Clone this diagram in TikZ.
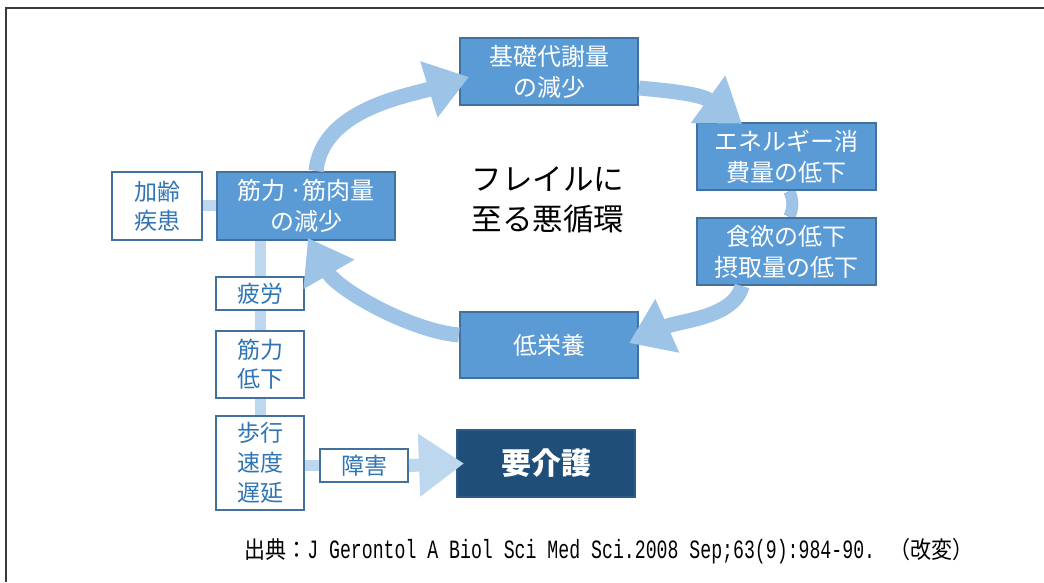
\documentclass[tikz,border=0pt]{standalone}
\usepackage{fontspec}
\setmainfont{Noto Sans CJK JP}
\newfontfamily\jpfont{Noto Sans CJK JP}
\newfontfamily\citemono{Liberation Mono}
\usetikzlibrary{arrows.meta,calc,backgrounds}
\definecolor{boxfill}{HTML}{5B9BD5}
\definecolor{boxline}{HTML}{41719C}
\definecolor{wtext}{HTML}{2F75B5}
\definecolor{carefill}{HTML}{1F4E79}
\definecolor{careline}{HTML}{2E5C8A}
\definecolor{arrowc}{HTML}{9DC3E6}
\definecolor{connc}{HTML}{BDD7EE}
\definecolor{framec}{HTML}{3A3A3A}
\tikzset{
  x=1pt, y=1pt,
  bluebox/.style={draw=boxline, fill=boxfill, line width=2pt, text=white,
    minimum width=178pt, minimum height=67pt, inner sep=0pt, align=center,
    font=\fontsize{24}{31}\selectfont},
  whitebox/.style={draw=boxline, fill=white, line width=2pt, text=wtext,
    minimum width=88pt, inner sep=0pt, align=center,
    font=\fontsize{23}{29}\selectfont},
  carebox/.style={draw=careline, fill=carefill, line width=2pt, text=white,
    minimum width=178pt, minimum height=67pt, inner sep=0pt,
    font=\fontsize{30}{36}\selectfont\bfseries},
  cyc/.style={draw=arrowc, line width=15pt, -{Triangle[length=42pt,width=56pt]}},
  cycline/.style={draw=arrowc, line width=12pt},
  conn/.style={draw=connc, line width=11pt},
  carrow/.style={draw=connc, line width=13pt, -{Triangle[length=45pt,width=60pt]}},
}
\begin{document}
\begin{tikzpicture}
\useasboundingbox (0,0) rectangle (1044,582);
\draw[framec, line width=1.5pt] (6,0) -- (6,574) -- (1044,574);

\node[bluebox] (base) at (549,510.5) {基礎代謝量\\の減少};
\node[bluebox, minimum width=179pt] (ene) at (786.5,425.5) {エネルギー消\\費量の低下};
\node[bluebox, minimum width=179pt] (app) at (786.5,330.5) {食欲の低下\\摂取量の低下};
\node[bluebox, minimum height=66pt] (low) at (549,237) {低栄養};
\node[bluebox, minimum height=68pt] (mus) at (306,376) {筋力\,·筋肉量\\の減少};
\node[whitebox, minimum width=90pt, minimum height=68pt] (age) at (157,376) {加齢\\疾患};
\node[whitebox, minimum height=33pt] (fat) at (260,288.5) {疲労};
\node[whitebox, minimum height=67pt] (str) at (260,217.5) {筋力\\低下};
\node[whitebox, minimum height=94pt, font=\fontsize{23}{30}\selectfont] (walk) at (260,119) {歩行\\速度\\遅延};
\node[whitebox, minimum height=33pt] (dis) at (364,116.5) {障害};
\node[carebox] (care) at (546,118.5) {要介護};
\node[align=center, font=\fontsize{30.5}{40}\selectfont, text=black] (title) at (548,382) {フレイルに\\至る悪循環};
\node[text=black, inner sep=0pt] (cite) at (609,31) {%
  \scalebox{1}[1.12]{\fontsize{21}{24}\jpfont 出典：}%
  \scalebox{1}[1.45]{\fontsize{18.2}{22}\citemono J Gerontol A Biol Sci Med Sci.2008 Sep;63(9):984-90. }%
  \scalebox{1}[1.12]{\fontsize{21}{24}\jpfont （改変）}};

\begin{scope}[on background layer]
  \draw[conn] (age.east) -- (mus.west);
  \draw[conn] (mus.south -| walk.north) -- (walk.north);
  \draw[conn] (walk.east |- dis.west) -- (dis.west);
  \draw[cycline] ($(ene.south)+(2.5,0)$) .. controls ($(ene.south)+(7,-8)$) and ($(app.north)+(7,8)$) .. ($(app.north)+(2.5,0)$);
\end{scope}

\draw[cyc] ($(mus.north)+(10,0)$) .. controls ($(mus.north)+(16,62)$) and ($(base.west)+(-50,-24)$) .. ($(base.west)+(10,-5.5)$);
\draw[cyc] ($(base.east)+(0,-16.5)$) .. controls ($(base.east)+(38,-20)$) and ($(ene.north)+(-85,27.4)$) .. ($(ene.north)+(-44.5,-2)$);
\draw[cyc] ($(app.south)+(-44.5,0)$) .. controls ($(app.south)+(-52.5,-32)$) and ($(low.east)+(40,24.4)$) .. ($(low.east)+(-10,2)$);
\draw[cyc] ($(low.west)+(0,10)$) .. controls ($(low.west)+(-48,14)$) and ($(mus.south)+(32,-49)$) .. ($(mus.south)+(2,3)$);
\draw[carrow] (dis.east) -- ($(care.west)+(8,0)$);
\end{tikzpicture}
\end{document}
